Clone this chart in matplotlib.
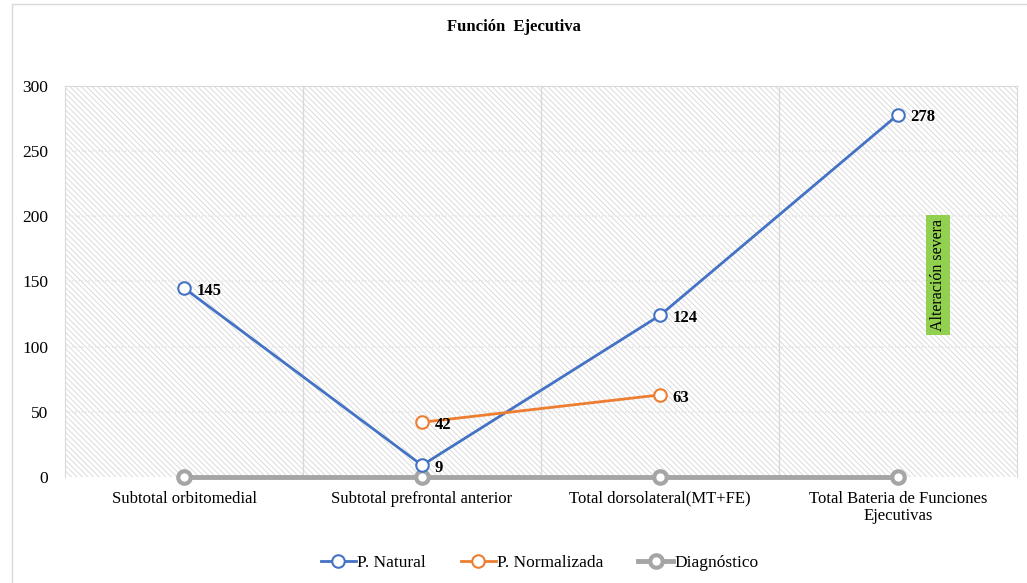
import matplotlib
matplotlib.use("Agg")
import matplotlib.pyplot as plt
from matplotlib.patches import Rectangle

categories = ["Subtotal orbitomedial", "Subtotal prefrontal anterior",
              "Total dorsolateral(MT+FE)", "Total Bateria de Funciones\nEjecutivas"]
natural = [145, 9, 124, 278]
norm_idx = [1, 2]
normalizada = [42, 63]
diagnostico = [0, 0, 0, 0]
yticks = [0, 50, 100, 150, 200, 250, 300]

plt.rcParams['font.family'] = ['Liberation Serif', 'DejaVu Serif']
plt.rcParams['hatch.linewidth'] = 0.6

BLUE = "#4472C4"
ORANGE = "#ED7D31"
GRAY = "#A5A5A5"

fig = plt.figure(figsize=(10.27, 5.83), dpi=100)
# outer chart border
fig.patches.append(Rectangle((12/1027, -0.1), 1.2, (583-4)/583 + 0.1, transform=fig.transFigure,
                             fill=False, edgecolor="#D9D9D9", linewidth=1.0))

ax = fig.add_axes([65/1027, 106/583, (1017-65)/1027, (477-86)/583])
ax.set_xlim(-0.5, 3.5)
ax.set_ylim(0, 300)

# hatched plot area
ax.add_patch(Rectangle((0, 0), 1, 1, transform=ax.transAxes, facecolor="white",
                       edgecolor="#D6D6D6", hatch="\\" * 6, linewidth=0, zorder=0))

for y in yticks[1:]:
    ax.axhline(y, color="#E6E6E6", linewidth=1.2, linestyle=(0, (1, 1)), zorder=1)
for x in [0.5, 1.5, 2.5]:
    ax.axvline(x, color="#D9D9D9", linewidth=1.0, zorder=1)

for s in ["left", "right", "top"]:
    ax.spines[s].set_color("#D9D9D9")
ax.spines["bottom"].set_visible(False)

x_all = list(range(len(categories)))
ax.plot(x_all, diagnostico, color=GRAY, linewidth=3.5, marker="o", markersize=9,
        markerfacecolor="white", markeredgewidth=3, zorder=3, label="Diagnóstico",
        clip_on=False)
ax.plot(x_all, natural, color=BLUE, linewidth=2, marker="o", markersize=9,
        markerfacecolor="white", markeredgewidth=1.5, zorder=4, label="P. Natural",
        clip_on=False)
ax.plot(norm_idx, normalizada, color=ORANGE, linewidth=2, marker="o", markersize=9,
        markerfacecolor="white", markeredgewidth=1.5, zorder=4, label="P. Normalizada",
        clip_on=False)

for xi, v in zip(x_all, natural):
    ax.annotate(str(v), (xi, v), xytext=(9, -2), textcoords="offset points",
                ha="left", va="center", fontsize=12, fontweight="bold", zorder=5)
for xi, v in zip(norm_idx, normalizada):
    ax.annotate(str(v), (xi, v), xytext=(9, -2), textcoords="offset points",
                ha="left", va="center", fontsize=12, fontweight="bold", zorder=5)

ax.text(3.17, 155, "Alteración severa", rotation=90, ha="center", va="center",
        fontsize=11.5, bbox=dict(boxstyle="square,pad=0.25", facecolor="#92D050",
                                 edgecolor="none"), zorder=5)

ax.set_yticks(yticks)
ax.set_xticks(x_all)
ax.set_xticklabels(categories, fontsize=12, linespacing=1.1)
ax.tick_params(axis="y", length=0, labelsize=12.5, pad=12)
ax.tick_params(axis="x", length=0, pad=10)

fig.text(0.5, 1 - 27/583, "Función  Ejecutiva", ha="center", va="center",
         fontsize=12, fontweight="bold")

h, l = ax.get_legend_handles_labels()
order = [1, 2, 0]
fig.legend([h[i] for i in order], [l[i] for i in order], loc="center",
           bbox_to_anchor=(540/1027, 1 - 563/583), ncol=3, frameon=False,
           fontsize=12.5, handlelength=2.0, columnspacing=2.0, handletextpad=0.1)

fig.savefig("out.png", dpi=100)
